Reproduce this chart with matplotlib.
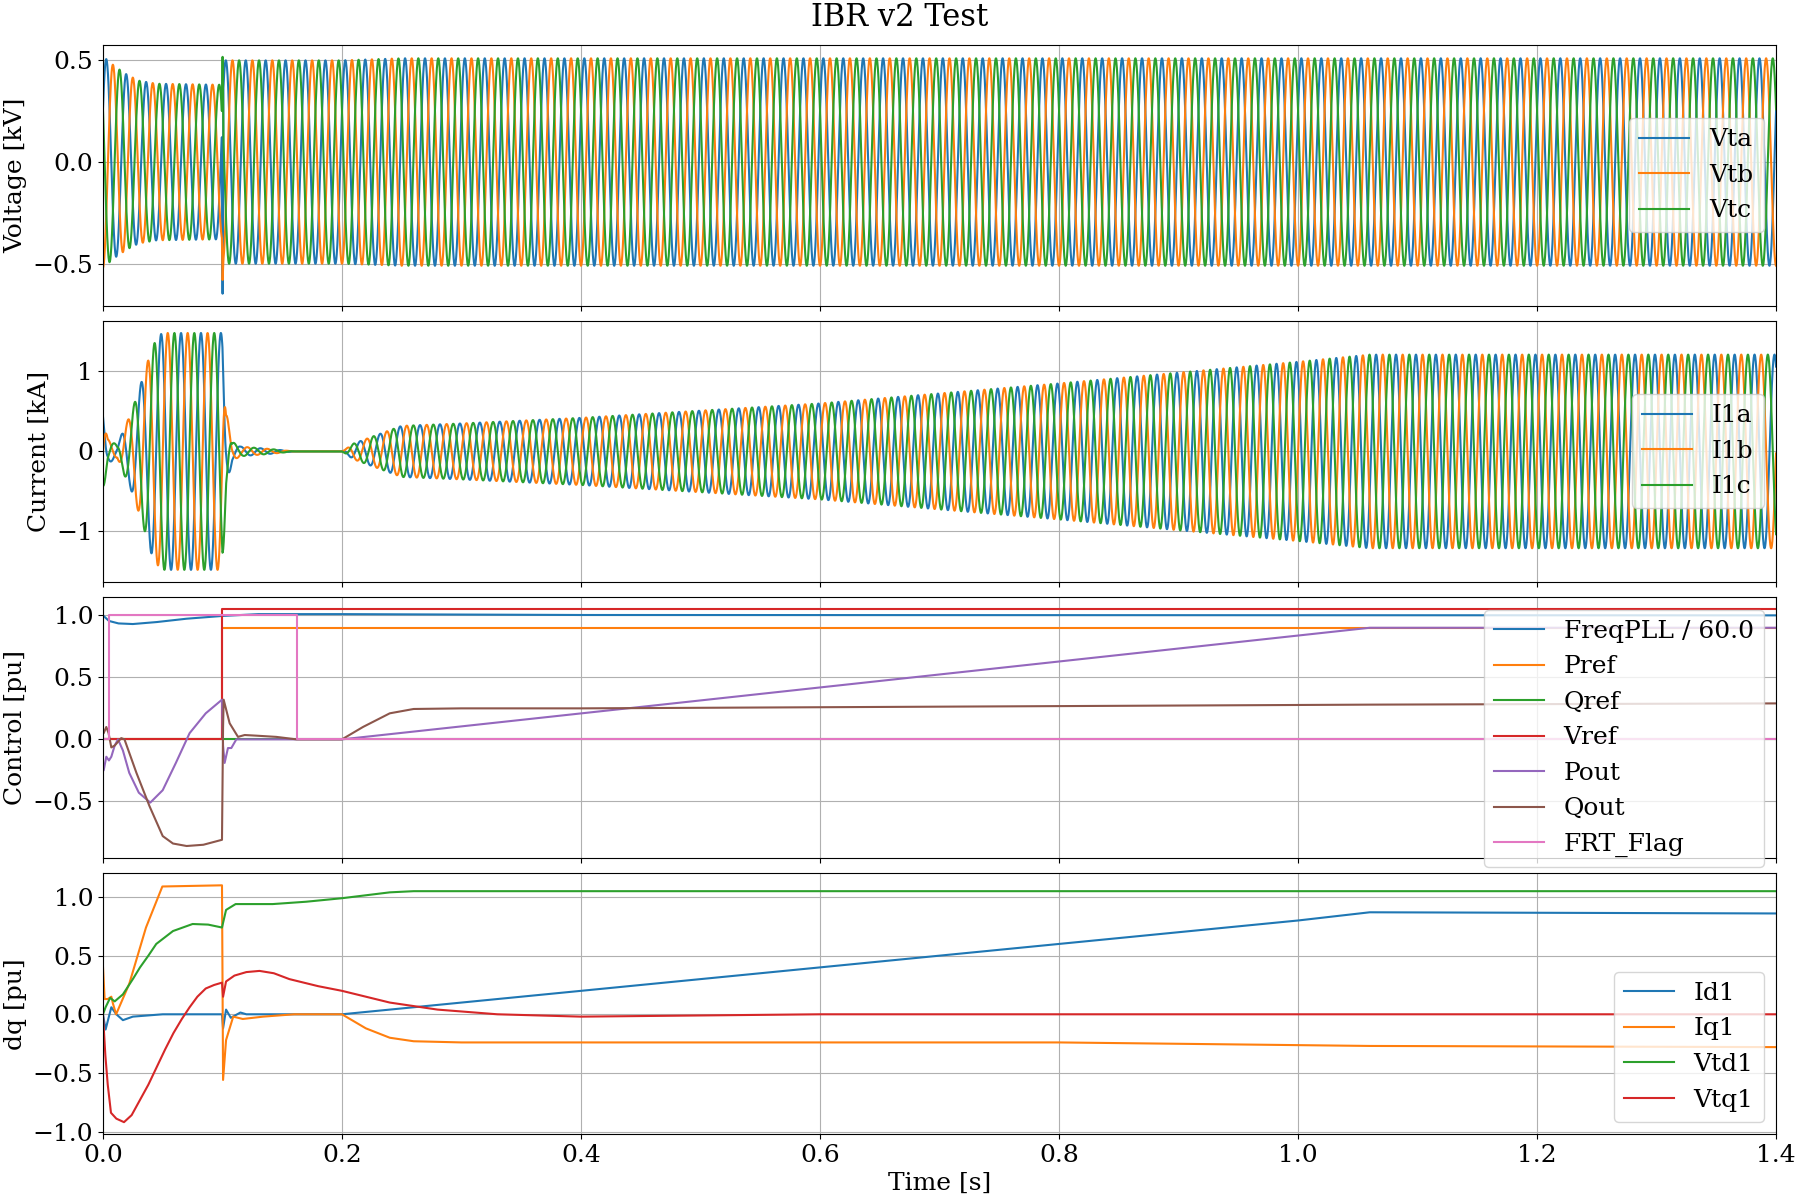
import numpy as np
import matplotlib
matplotlib.use("Agg")
import matplotlib.pyplot as plt

plt.rcParams['font.family'] = ['DejaVu Serif']
plt.rcParams['font.size'] = 18

F_GRID = 60.0
DT = 1e-4

# --- terminal voltage envelope (kV peak) and phase-a peak time
v_env_t = [0.0, 0.01, 0.02, 0.03, 0.045, 0.0995, 0.1, 0.2, 0.25, 1.4]
v_env = [0.52, 0.47, 0.43, 0.40, 0.385, 0.38, 0.50, 0.50, 0.51, 0.51]
v_peak_t = 0.0028
# short switching spike at the fault clearing (added per phase)
v_spike_t = [0.0995, 0.1001, 0.1008]
v_spike_a = [0.0, -0.91, 0.0]
v_spike_b = [0.0, -0.08, 0.0]
v_spike_c = [0.0, 0.28, 0.0]

# --- inverter current envelope (kA peak)
i_env_t = [0.0, 0.004, 0.012, 0.018, 0.023, 0.029, 0.035, 0.041, 0.047, 0.05,
           0.1, 0.103, 0.108, 0.115, 0.14, 0.16, 0.2, 0.21, 0.25, 0.3, 0.4,
           0.6, 0.8, 1.0, 1.06, 1.4]
i_env = [0.5, 0.15, 0.08, 0.3, 0.46, 0.72, 1.0, 1.3, 1.45, 1.48,
         1.48, 0.5, 0.12, 0.06, 0.03, 0.0, 0.0, 0.1, 0.32, 0.35, 0.42,
         0.6, 0.85, 1.12, 1.21, 1.21]
i_peak_t = 0.032

# --- control signals
freq_t = [0.0, 0.005, 0.013, 0.025, 0.045, 0.07, 0.0996, 0.13, 0.2, 0.4, 1.4]
freq_pll = [1.0, 0.955, 0.935, 0.93, 0.946, 0.973, 0.995, 1.01, 1.01, 1.003, 1.0]
pref_t = [0.0, 0.1, 0.1, 1.4]
pref = [0.0, 0.0, 0.9, 0.9]
qref_t = [0.0, 1.4]
qref = [0.0, 0.0]
vref_t = [0.0, 0.1, 0.1, 1.4]
vref = [0.0, 0.0, 1.05, 1.05]
pout_t = [0.0, 0.0006, 0.0028, 0.005, 0.007, 0.0098, 0.0126, 0.0167, 0.022, 0.03,
          0.0396, 0.05, 0.061, 0.0725, 0.086, 0.0996, 0.1005, 0.1018, 0.1046, 0.1074,
          0.1116, 0.12, 0.2, 1.06, 1.4]
pout = [-0.25, -0.25, -0.14, -0.17, -0.14, -0.05, 0.0, -0.09, -0.27, -0.43,
        -0.51, -0.41, -0.19, 0.05, 0.21, 0.32, -0.05, -0.19, -0.07, -0.07,
        0.0, 0.0, 0.0, 0.9, 0.9]
qout_t = [0.0, 0.0006, 0.0028, 0.0047, 0.007, 0.0098, 0.0153, 0.018, 0.028, 0.039,
          0.05, 0.0586, 0.07, 0.084, 0.0996, 0.1005, 0.101, 0.106, 0.113, 0.1186,
          0.128, 0.145, 0.162, 0.2, 0.2176, 0.24, 0.26, 0.3, 0.4, 1.06, 1.4]
qout = [0.05, 0.05, 0.1, 0.05, -0.065, -0.05, 0.01, 0.0, -0.27, -0.54,
        -0.78, -0.84, -0.86, -0.85, -0.81, 0.1, 0.32, 0.13, 0.02, 0.035,
        0.03, 0.02, 0.0, 0.0, 0.1, 0.21, 0.245, 0.25, 0.25, 0.28, 0.29]
frt_t = [0.0, 0.0048, 0.0048, 0.162, 0.162, 1.4]
frt_flag = [0.0, 0.0, 1.0, 1.0, 0.0, 0.0]

# --- dq quantities
id1_t = [0.0, 0.0022, 0.007, 0.0112, 0.0167, 0.025, 0.05, 0.0996, 0.1005,
         0.103, 0.107, 0.115, 0.12, 0.2, 0.24, 0.4, 0.6, 0.8,
         1.0, 1.06, 1.4]
id1 = [0.0, -0.13, 0.06, 0.0, -0.05, -0.02, 0.0, 0.0, -0.12,
       0.04, -0.03, 0.015, 0.0, 0.0, 0.04, 0.2, 0.4, 0.6,
       0.8, 0.87, 0.86]
iq1_t = [0.0, 0.0014, 0.004, 0.007, 0.0084, 0.011, 0.022, 0.036, 0.0497, 0.0996,
         0.1005, 0.103, 0.109, 0.117, 0.134, 0.16, 0.2, 0.22, 0.24,
         0.26, 0.3, 0.8, 1.06, 1.4]
iq1 = [0.41, 0.13, 0.13, 0.15, 0.09, 0.0, 0.26, 0.74, 1.09, 1.1,
       -0.56, -0.22, -0.02, -0.04, -0.02, 0.0, 0.0, -0.12, -0.2,
       -0.23, -0.24, -0.24, -0.27, -0.28]
vtd1_t = [0.0, 0.0022, 0.006, 0.0098, 0.0167, 0.025, 0.031, 0.038, 0.0446, 0.0586,
          0.075, 0.088, 0.0996, 0.103, 0.111, 0.142, 0.17, 0.2, 0.24, 0.26, 1.4]
vtd1 = [0.0, 0.06, 0.14, 0.11, 0.17, 0.3, 0.4, 0.5, 0.6, 0.71,
        0.77, 0.765, 0.74, 0.89, 0.94, 0.94, 0.96, 0.99, 1.04, 1.05, 1.05]
vtq1_t = [0.0, 0.002, 0.004, 0.0067, 0.0112, 0.0176, 0.024, 0.031, 0.038, 0.045,
          0.052, 0.059, 0.066, 0.0725, 0.079, 0.086, 0.093, 0.0996, 0.1005, 0.103,
          0.11, 0.12, 0.131, 0.143, 0.156, 0.18, 0.2, 0.24, 0.28, 0.33, 0.4,
          0.5, 0.6, 1.4]
vtq1 = [0.0, -0.35, -0.6, -0.84, -0.89, -0.92, -0.86, -0.73, -0.6, -0.45,
        -0.3, -0.16, -0.04, 0.06, 0.15, 0.22, 0.25, 0.27, 0.15, 0.28,
        0.33, 0.36, 0.37, 0.35, 0.3, 0.24, 0.2, 0.1, 0.04, 0.0, -0.02,
        -0.01, 0.0, 0.0]


def three_phase(t, env_t, env, peak_t):
    amp = np.interp(t, env_t, env)
    ang = 2 * np.pi * F_GRID * (t - peak_t)
    return (amp * np.cos(ang),
            amp * np.cos(ang - 2 * np.pi / 3),
            amp * np.cos(ang + 2 * np.pi / 3))


t = np.arange(0.0, 1.4 + DT / 2, DT)
va, vb, vc = three_phase(t, v_env_t, v_env, v_peak_t)
va = va + np.interp(t, v_spike_t, v_spike_a, left=0, right=0)
vb = vb + np.interp(t, v_spike_t, v_spike_b, left=0, right=0)
vc = vc + np.interp(t, v_spike_t, v_spike_c, left=0, right=0)
ia, ib, ic = three_phase(t, i_env_t, i_env, i_peak_t)

fig, axes = plt.subplots(4, 1, figsize=(18, 12), dpi=100, sharex=True)
fig.subplots_adjust(left=0.0572, right=0.9867, top=0.9625, bottom=0.055, hspace=0.06)
fig.suptitle("IBR v2 Test", fontsize=22, y=0.998)

ax = axes[0]
ax.plot(t, va, label="Vta")
ax.plot(t, vb, label="Vtb")
ax.plot(t, vc, label="Vtc")
ax.set_ylabel("Voltage [kV]")
ax.legend(loc="center right")

ax = axes[1]
ax.plot(t, ia, label="I1a")
ax.plot(t, ib, label="I1b")
ax.plot(t, ic, label="I1c")
ax.set_ylabel("Current [kA]")
ax.legend(loc="center right")

ax = axes[2]
ax.plot(freq_t, freq_pll, label="FreqPLL / 60.0")
ax.plot(pref_t, pref, label="Pref")
ax.plot(qref_t, qref, label="Qref")
ax.plot(vref_t, vref, label="Vref")
ax.plot(pout_t, pout, label="Pout")
ax.plot(qout_t, qout, label="Qout")
ax.plot(frt_t, frt_flag, label="FRT_Flag")
ax.set_ylabel("Control [pu]")
ax.legend(loc="upper right")

ax = axes[3]
ax.plot(id1_t, id1, label="Id1")
ax.plot(iq1_t, iq1, label="Iq1")
ax.plot(vtd1_t, vtd1, label="Vtd1")
ax.plot(vtq1_t, vtq1, label="Vtq1")
ax.set_ylabel("dq [pu]")
ax.set_xlabel("Time [s]")
ax.legend(loc="lower right")

for ax in axes:
    ax.grid(True)
    ax.set_xlim(0, 1.4)

fig.savefig("out.png")
